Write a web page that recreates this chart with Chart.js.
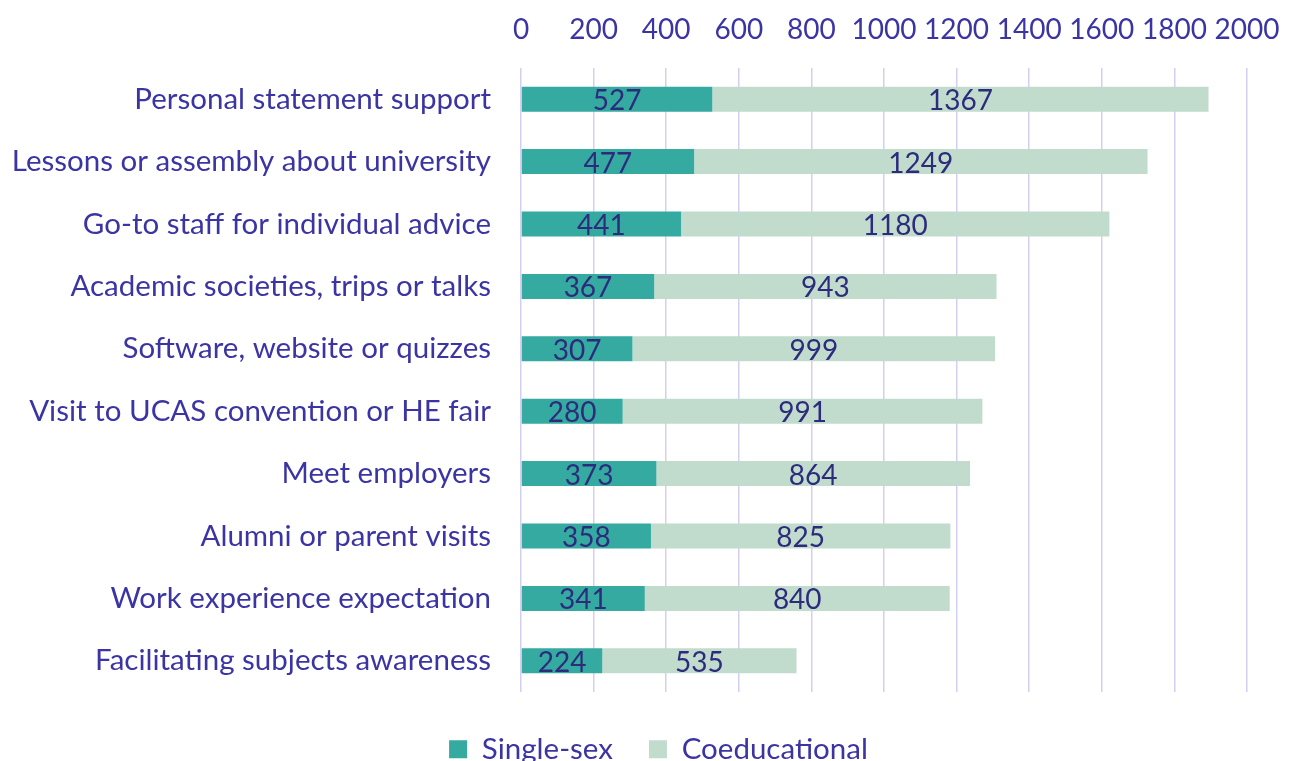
<!DOCTYPE html>
<html>
<head>
<meta charset="utf-8">
<script src="https://cdn.jsdelivr.net/npm/chart.js@4"></script>
<style>
  html, body { margin: 0; padding: 0; background: #fff; }
  #wrap { width: 1289px; height: 761px; }
</style>
</head>
<body>
<div id="wrap"><canvas id="chart"></canvas></div>
<script>
const categories = [
    'Personal statement support',
    'Lessons or assembly about university',
    'Go-to staff for individual advice',
    'Academic societies, trips or talks',
    'Software, website or quizzes',
    'Visit to UCAS convention or HE fair',
    'Meet employers',
    'Alumni or parent visits',
    'Work experience expectation',
    'Facilitating subjects awareness'
];
const singleSex = [527, 477, 441, 367, 307, 280, 373, 358, 341, 224];
const coeducational = [1367, 1249, 1180, 943, 999, 991, 864, 825, 840, 535];
const seriesNames = ['Single-sex', 'Coeducational'];
const xTicks = [0, 200, 400, 600, 800, 1000, 1200, 1400, 1600, 1800, 2000];

const textColor = '#3b35a3';
const labelColor = '#2d2b7c';
const fontFamily = 'Lato, "Noto Sans", sans-serif';

// draws the value in the middle of each bar segment
const barValues = {
    id: 'barValues',
    afterDatasetsDraw(chart) {
        const ctx = chart.ctx;
        ctx.save();
        ctx.font = '28px ' + fontFamily;
        ctx.fillStyle = labelColor;
        ctx.textAlign = 'center';
        ctx.textBaseline = 'middle';
        chart.data.datasets.forEach((ds, i) => {
            chart.getDatasetMeta(i).data.forEach((bar, j) => {
                ctx.fillText(ds.data[j], (bar.x + bar.base) / 2, bar.y + 2);
            });
        });
        ctx.restore();
    }
};

// legend sits a little right of the page centre in the original
const legendShift = {
    id: 'legendShift',
    afterLayout(chart) {
        chart.legend.left += 35;
        chart.legend.right += 35;
    }
};

new Chart(document.getElementById('chart'), {
    type: 'bar',
    data: {
        labels: categories,
        datasets: [
            { label: seriesNames[0], data: singleSex, backgroundColor: '#35aaa1' },
            { label: seriesNames[1], data: coeducational, backgroundColor: '#c1dbcd' }
        ]
    },
    options: {
        indexAxis: 'y',
        responsive: true,
        maintainAspectRatio: false,
        animation: false,
        layout: { padding: { left: 0, right: 42, top: 0, bottom: -13 } },
        datasets: { bar: { barPercentage: 0.4, categoryPercentage: 1 } },
        scales: {
            x: {
                position: 'top',
                stacked: true,
                min: 0,
                max: 2000,
                afterBuildTicks: (axis) => { axis.ticks = xTicks.map(v => ({ value: v })); },
                afterFit: (axis) => {
                    axis.height = 68;
                    axis.paddingLeft = 0;
                    axis.paddingRight = 0;
                },
                border: { display: false },
                grid: { color: '#d4cff0', lineWidth: 1.5, drawTicks: false },
                ticks: {
                    color: textColor,
                    font: { family: fontFamily, size: 28 },
                    padding: 21,
                    maxRotation: 0,
                    autoSkip: false,
                    callback: (v) => String(v)
                }
            },
            y: {
                stacked: true,
                afterFit: (axis) => { axis.width = 521; },
                border: { display: false },
                grid: { display: false, drawTicks: false },
                ticks: { color: textColor, font: { family: fontFamily, size: 29.5 }, padding: 30 }
            }
        },
        plugins: {
            tooltip: { enabled: false },
            legend: {
                position: 'bottom',
                title: { display: true, text: '', font: { size: 4.5, lineHeight: 1 }, padding: 1 },
                labels: {
                    color: textColor,
                    font: { family: fontFamily, size: 29.5 },
                    boxWidth: 18,
                    boxHeight: 18,
                    padding: 36
                }
            }
        }
    },
    plugins: [barValues, legendShift]
});
</script>
</body>
</html>
